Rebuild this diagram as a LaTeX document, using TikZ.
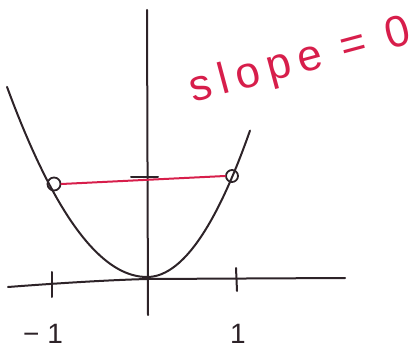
\documentclass[tikz,border=0pt]{standalone}
\usepackage{fontspec}
\setmainfont{Liberation Sans}
\definecolor{ink}{RGB}{45,35,40}
\definecolor{pen}{RGB}{215,30,75}
\begin{document}
\begin{tikzpicture}[x=1pt,y=-1pt,
  axis/.style={ink,line width=2pt,line cap=round},
  curve/.style={ink,line width=2pt,line cap=round},
  redline/.style={pen,line width=2pt,line cap=round},
  loopmark/.style={circle,draw=ink,line width=1.8pt,minimum size=13pt,inner sep=0pt},
  lbl/.style={ink,font=\fontsize{28}{28}\selectfont,inner sep=0pt}]
\useasboundingbox (0,0) rectangle (415,350);
% axes
\coordinate (xl) at (8,287);
\coordinate (xm) at (147,279);
\coordinate (xr) at (345,278);
\coordinate (yt) at (147,10);
\coordinate (yb) at (148,315);
\draw[axis] (xl) .. controls (60,283) and (110,280) .. (xm) -- (xr);
\draw[axis] (yt) -- (yb);
% ticks
\coordinate (t1a) at (52,272); \coordinate (t1b) at (52,297);
\coordinate (t2a) at (236,268); \coordinate (t2b) at (237,291);
\draw[axis] (t1a) -- (t1b);
\draw[axis] (t2a) -- (t2b);
\coordinate (yta) at (131,177); \coordinate (ytb) at (158,177);
\draw[axis] (yta) -- (ytb);
% parabola
\draw[curve] plot[domain=7:147,samples=40] (\x,{277-0.97*((147-\x)/10)^2});
\draw[curve] plot[domain=147:250,samples=40] (\x,{277-1.38*((\x-147)/10)^2});
% points
\node[loopmark] (pl) at (54,184) {};
\node[loopmark,minimum size=12pt] (pr) at (232,176) {};
\draw[redline] (pl.east) -- (pr.west);
% labels
\node[lbl] (m1) at (43,334) {\textminus\hspace{8pt}1};
\node[lbl] (p1) at (238,334) {1};
\node[pen,rotate=15,font=\fontsize{44}{44}\selectfont\addfontfeature{LetterSpace=18},inner sep=0pt] (sl) at (300,62) {slope = 0};
\end{tikzpicture}
\end{document}
